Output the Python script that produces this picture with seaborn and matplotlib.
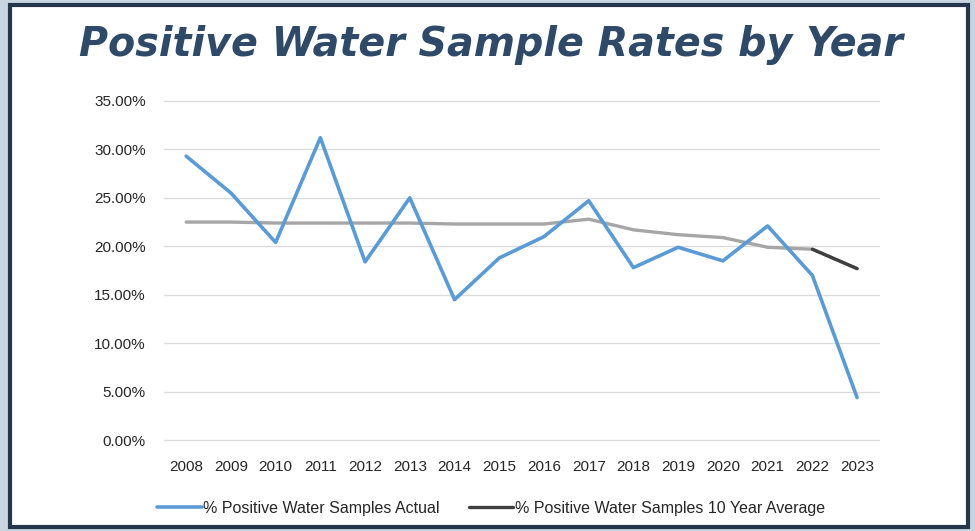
import pandas as pd
import matplotlib.pyplot as plt
import seaborn as sns
from matplotlib.patches import Rectangle
from matplotlib.ticker import PercentFormatter

years = [2008, 2009, 2010, 2011, 2012, 2013, 2014, 2015,
         2016, 2017, 2018, 2019, 2020, 2021, 2022, 2023]
actual_rate = [29.3, 25.5, 20.4, 31.2, 18.4, 25.0, 14.5, 18.8,
               21.0, 24.7, 17.8, 19.9, 18.5, 22.1, 17.0, 4.4]
avg_rate = [22.5, 22.5, 22.4, 22.4, 22.4, 22.4, 22.3, 22.3,
            22.3, 22.8, 21.7, 21.2, 20.9, 19.9, 19.7, 17.7]
y_ticks = [0, 5, 10, 15, 20, 25, 30, 35]

label_actual = "% Positive Water Samples Actual"
label_avg = "% Positive Water Samples 10 Year Average"

sns.set_style("white")
plt.rcParams['font.family'] = ['Liberation Sans', 'DejaVu Sans']

df = pd.DataFrame({'Year': [str(y) for y in years], 'Actual': actual_rate, 'Average': avg_rate})

fig = plt.figure(figsize=(9.75, 5.31), dpi=100)
fig.patch.set_facecolor('#c8d5e1')
# white slide panel with dark frame
fig.patches.append(Rectangle((10 / 975, 4 / 531), 958 / 975, 522 / 531, transform=fig.transFigure,
                             facecolor='white', edgecolor='#25364a', linewidth=3, zorder=-5))

ax = fig.add_axes([0.168, 0.171, 0.734, 0.639])
ax.set_facecolor('none')
ax.set_zorder(2)

sns.lineplot(data=df, x='Year', y='Average', color='#a6a6a6', linewidth=2.4, ax=ax, sort=False)
tail = df.iloc[-2:]
sns.lineplot(data=tail, x='Year', y='Average', color='#3f3f3f', linewidth=2.4, ax=ax,
             sort=False, label=label_avg)
sns.lineplot(data=df, x='Year', y='Actual', color='#5b9bd5', linewidth=2.6, ax=ax,
             sort=False, label=label_actual)

ax.set_ylim(0, 35)
ax.set_xlim(-0.5, len(years) - 0.5)
ax.set_yticks(y_ticks)
ax.yaxis.set_major_formatter(PercentFormatter(decimals=2))
ax.grid(axis='y', color='#dcdcdc', linewidth=1)
for gl in ax.get_ygridlines():
    gl.set_clip_on(False)
ax.set_axisbelow(True)
for s in ax.spines.values():
    s.set_visible(False)
ax.tick_params(axis='both', length=0, labelsize=11, labelcolor='#262626')
ax.tick_params(axis='y', pad=13)
ax.tick_params(axis='x', pad=14)
ax.set_xlabel('')
ax.set_ylabel('')

handles, labels = ax.get_legend_handles_labels()
order = [labels.index(label_actual), labels.index(label_avg)]
ax.legend([handles[i] for i in order], [labels[i] for i in order], loc='center',
          bbox_to_anchor=(491 / 975, 23 / 531), bbox_transform=fig.transFigure,
          ncol=2, frameon=False, fontsize=11.5, handlelength=2.8, handletextpad=0.1,
          columnspacing=1.8, labelcolor='#262626')

fig.text(491 / 975, 1 - 45 / 531, 'Positive Water Sample Rates by Year', ha='center', va='center',
         fontsize=28.5, fontweight='bold', fontstyle='italic', color='#2e4a68',
         family=['DejaVu Sans'])

fig.savefig('out.png', dpi=100, facecolor=fig.get_facecolor())
